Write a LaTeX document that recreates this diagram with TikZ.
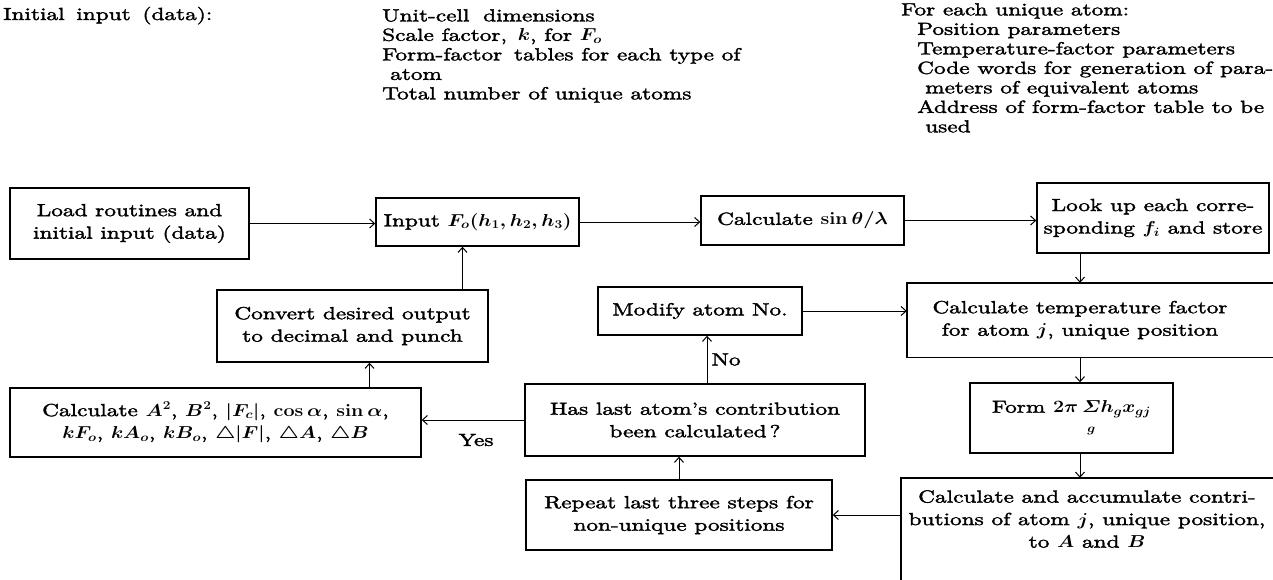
\documentclass[tikz,border=0pt]{standalone}
\usepackage[no-math]{fontspec}
\setmainfont{lmroman10-regular.otf}[FakeStretch=1.33,FakeBold=2]
\usepackage{amsmath}
\usepackage{graphicx}
\usetikzlibrary{arrows.meta}
\newcommand\MM[1]{\scalebox{1.14}[1]{$#1$}}
\begin{document}
\boldmath
\begin{tikzpicture}[x=1pt,y=-1pt,
  box/.style={draw, line width=1.4pt, inner sep=0pt, align=center, font=\fontsize{17.5}{22.5}\selectfont},
  openbox/.style={inner sep=0pt, align=center, font=\fontsize{17.5}{22.5}\selectfont},
  border/.style={line width=1.4pt},
  arr/.style={line width=1pt, -{Straight Barb[length=5pt,width=9pt]}},
  lbl/.style={inner sep=0pt, font=\fontsize{17.5}{19.5}\selectfont},
  toptext/.style={inner sep=0pt, align=left, font=\fontsize{17.5}{19.5}\selectfont}]
\useasboundingbox (0,0) rectangle (1273,580);
\clip (0,0) rectangle (1273,580);

% top texts
\node[toptext, anchor=base west] (init) at (3,20) {Initial\hspace{4pt} input\hspace{4pt} (data):};
\node[toptext, anchor=north west] (gen) at (382,9) {Unit-cell\hspace{6pt} dimensions\\Scale factor,\hspace{3pt} \MM{k}, for \MM{F_o}\\Form-factor\hspace{4pt} tables for each type of\\\hspace*{8pt}atom\\Total number of unique atoms};
\node[toptext, anchor=north west] (uniq) at (901,3) {For each unique atom:\\\hspace*{16pt}Position parameters\\\hspace*{16pt}Temperature-factor parameters\\\hspace*{16pt}Code words for generation of para-\\\hspace*{24pt}meters of equivalent atoms\\\hspace*{16pt}Address of form-factor table to be\\\hspace*{24pt}used};

% boxes
\node[box, minimum width=239pt, minimum height=71pt] (load) at (129.5,223.5) {Load routines and\\initial input (data)};
\node[box, minimum width=203pt, minimum height=48pt] (input) at (477.5,222) {Input \MM{F_o(h_1,h_2,h_3)}};
\node[box, minimum width=203pt, minimum height=49pt] (sin) at (802.5,220.5) {Calculate \MM{\sin\theta/\lambda}};
\node[box, minimum width=232pt, minimum height=70pt] (lookup) at (1153,218) {Look up each corre-\\sponding \MM{f_i} and store};
\node[openbox, minimum width=346pt, minimum height=74pt] (temp) at (1080,320) {Calculate temperature factor\\for atom \MM{j}, unique position};
\draw[border] ([xshift=450pt]temp.north west) -- (temp.north west) -- (temp.south west) -- ([xshift=450pt]temp.south west);
\node[box, minimum width=204pt, minimum height=48pt] (modify) at (700,311) {Modify atom No.};
\node[box, minimum width=271pt, minimum height=72pt] (convert) at (352.5,326) {Convert desired output\\to decimal and punch};
\node[box, minimum width=411pt, minimum height=69pt] (calcA) at (215.5,422.5) {Calculate \MM{A^2}, \MM{B^2}, \MM{|F_c|}, \MM{\cos\alpha}, \MM{\sin\alpha},\\\MM{kF_o}, \MM{kA_o}, \MM{kB_o}, \MM{\triangle|F|}, \MM{\triangle A}, \MM{\triangle B}};
\node[box, minimum width=340pt, minimum height=72pt] (has) at (695,420) {Has last atom’s contribution\\been calculated\,?};
\node[box, minimum width=203pt, minimum height=70pt] (form) at (1071.5,418) {Form \MM{2\pi\,\begin{array}[t]{@{}c@{}}\mathnormal{\Sigma}\\[-3pt] \scriptstyle g\end{array} h_g x_{gj}}};
\node[box, minimum width=306pt, minimum height=70pt] (repeat) at (679,515) {Repeat last three steps for\\non-unique positions};
\node[openbox, minimum width=372pt, minimum height=82pt] (accum) at (1087,519) {Calculate and accumulate contri-\\butions of atom \MM{j}, unique position,\\to \MM{A} and \MM{B}};
\draw[border] ([xshift=450pt]accum.north west) -- (accum.north west) -- ([yshift=-100pt]accum.south west);

% connectors
\draw[arr] (load.east) -- (load.east -| input.west);
\draw[arr] (input.east) -- (input.east -| sin.west);
\draw[arr] (sin.east) -- (sin.east -| lookup.west);
\draw[arr] (lookup.south -| temp.north) -- (temp.north);
\draw[arr] (temp.south) -- (temp.south |- form.north);
\draw[arr] (temp.south |- form.south) -- (temp.south |- accum.north);
\draw[arr] (accum.west |- repeat.east) -- (repeat.east);
\draw[arr] (repeat.north) -- (repeat.north |- has.south);
\draw[arr] ([xshift=12pt]has.north) -- ([xshift=12pt]has.north |- modify.south) node[lbl, pos=0.5, anchor=west, xshift=4pt] (no) {No};
\draw[arr] (modify.east) -- (modify.east -| temp.west);
\draw[arr] (has.west) -- (has.west -| calcA.east);
\node[lbl] (yes) at (476,440) {Yes};
\draw[arr] ([xshift=17pt]convert.south |- calcA.north) -- ([xshift=17pt]convert.south);
\draw[arr] ([xshift=110pt]convert.north) -- ([xshift=110pt]convert.north |- input.south);
\end{tikzpicture}
\end{document}
